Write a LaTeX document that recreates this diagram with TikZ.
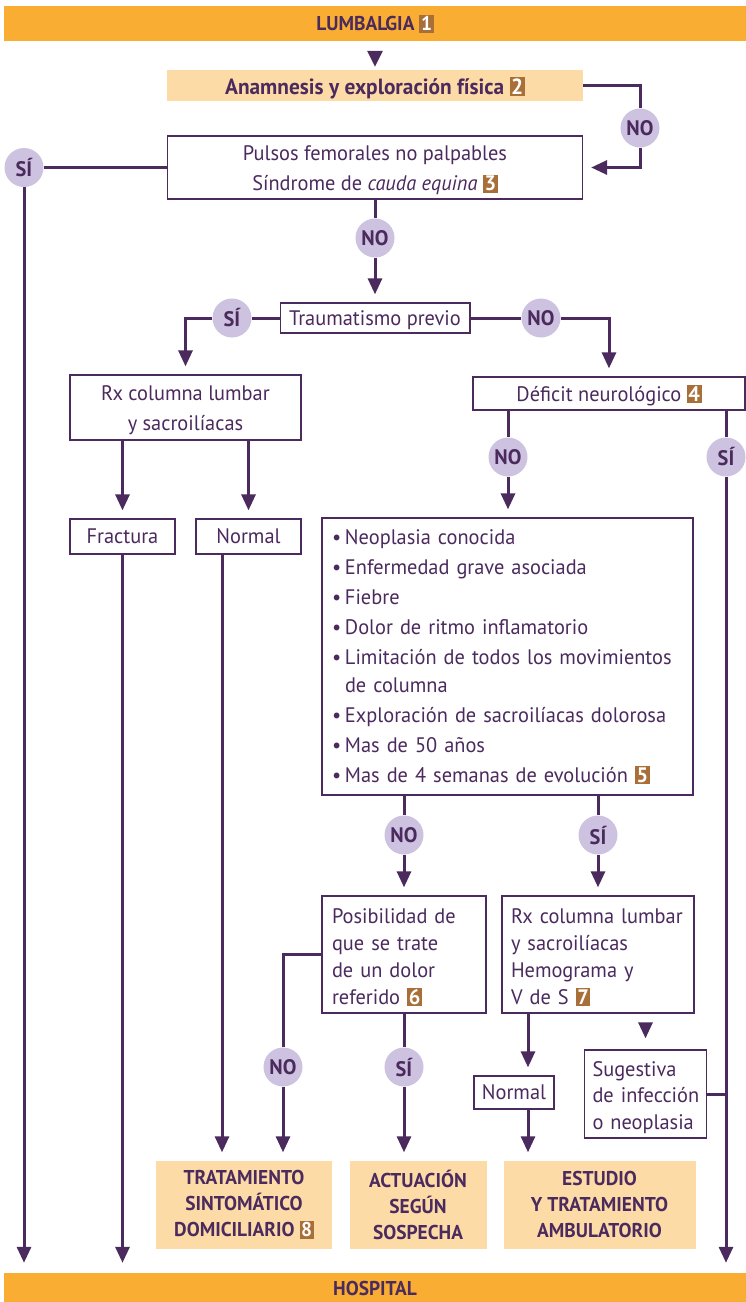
\documentclass[tikz,border=0pt]{standalone}
\usepackage{fontspec}
\setmainfont{PT Sans}[FakeStretch=0.97]
\usetikzlibrary{arrows.meta,calc}

\definecolor{ink}{HTML}{4B2A5E}
\definecolor{barorange}{HTML}{F9AE33}
\definecolor{paleorange}{HTML}{FDDBA7}
\definecolor{lavender}{HTML}{CDC2DF}
\definecolor{numbrown}{HTML}{A96F38}

% brown reference number tag
\newcommand\refnum[1]{{\setlength{\fboxsep}{1.6pt}\colorbox{numbrown}{\textcolor{white}{\bfseries #1}}}}
% bullet with fixed indent
\newcommand\itm{\makebox[13pt][l]{\textbullet}}
% invisible strut that lowers a multi-line text block a little
\newcommand\lowerby[1]{\rule{0pt}{\dimexpr 15pt+#1\relax}}

\tikzset{
  every node/.style={text=ink},
  frame/.style={draw=ink, line width=1.3pt, fill=white, inner xsep=9pt, inner ysep=0pt},
  oneline/.style={text depth=0pt},
  softbox/.style={fill=paleorange, inner sep=0pt},
  banner/.style={fill=barorange, inner sep=0pt},
  answer/.style={circle, fill=lavender, minimum size=39pt, inner sep=0pt,
                 font=\fontsize{21}{21}\selectfont\bfseries},
  txt/.style={font=\fontsize{21}{30}\selectfont},
  btxt/.style={font=\fontsize{20}{26}\selectfont\bfseries},
  link/.style={draw=ink, line width=3pt},
  arr/.style={link, -{Triangle[length=16pt,width=14pt]}, shorten >=8pt},
}

\begin{document}
\begin{tikzpicture}[x=1pt,y=-1pt]
\useasboundingbox (0,0) rectangle (746,1302);

% banners
\node[banner, oneline, minimum width=742pt, minimum height=35pt, btxt] (lumb) at (375,23) {LUMBALGIA \refnum{1}};
\node[banner, oneline, minimum width=742pt, minimum height=30pt, btxt] (hosp) at (375,1288) {HOSPITAL};

% boxes
\node[softbox, oneline, minimum width=416pt, minimum height=31pt, font=\fontsize{22}{26}\selectfont\bfseries] (anam) at (375,85.5) {Anamnesis y exploración física \refnum{2}};
\node[frame, minimum width=415pt, minimum height=63pt, txt, align=center] (puls) at (375,167.5)
  {\lowerby{6pt}Pulsos femorales no palpables\\Síndrome de \textit{cauda equina} \refnum{3}};
\node[frame, oneline, minimum width=187pt, minimum height=30pt, txt] (trau) at (375,318) {Traumatismo previo};
\node[frame, minimum width=231pt, minimum height=65pt, txt, align=center] (rx1) at (185.5,407.5)
  {\lowerby{6pt}Rx columna lumbar\\y sacroilíacas};
\node[frame, oneline, minimum width=105pt, minimum height=35pt, txt] (frac) at (122.5,536.5) {Fractura};
\node[frame, oneline, minimum width=105pt, minimum height=35pt, txt] (norm1) at (248.5,536.5) {Normal};
\node[frame, oneline, minimum width=272pt, minimum height=33pt, txt] (defi) at (609,393.5) {Déficit neurológico \refnum{4}};
\node[frame, inner xsep=10pt, text width=351pt, minimum height=277pt, txt, align=left] (list) at (507.5,656.5)
  {\itm Neoplasia conocida\\
   \itm Enfermedad grave asociada\\
   \itm Fiebre\\
   \itm Dolor de ritmo inflamatorio\\
   \itm Limitación de todos los movimientos\\[-2pt]
   \hspace*{13pt}de columna\\
   \itm Exploración de sacroilíacas dolorosa\\
   \itm Mas de 50 años\\
   \itm Mas de 4 semanas de evolución \refnum{5}};
\node[frame, inner xsep=10pt, text width=144pt, minimum height=117pt, font=\fontsize{21}{27}\selectfont, align=left] (posi) at (404,954.5)
  {\lowerby{6pt}Posibilidad de\\que se trate\\de un dolor\\referido \refnum{6}};
\node[frame, inner xsep=9pt, text width=174pt, minimum height=117pt, font=\fontsize{21}{27}\selectfont, align=left] (rx2) at (598,954.5)
  {\lowerby{6pt}Rx columna lumbar\\y sacroilíacas\\Hemograma y\\V de S \refnum{7}};
\node[frame, oneline, minimum width=80pt, minimum height=33pt, inner xsep=4pt, txt] (norm2) at (514,1092.5) {Normal};
\node[frame, inner xsep=8pt, text width=106pt, minimum height=88pt, font=\fontsize{21}{26.5}\selectfont, align=left] (suge) at (645.5,1094)
  {\lowerby{7pt}Sugestiva\\\mbox{de infección}\\o neoplasia};
\node[softbox, minimum width=176pt, minimum height=88pt, btxt, align=center] (trat) at (244,1204.5)
  {TRATAMIENTO\\SINTOMÁTICO\\DOMICILIARIO \refnum{8}};
\node[softbox, minimum width=137pt, minimum height=88pt, btxt, align=center] (actu) at (418,1204.5)
  {ACTUACIÓN\\SEGÚN\\SOSPECHA};
\node[softbox, minimum width=192pt, minimum height=88pt, btxt, align=center] (estu) at (599.5,1204.5)
  {ESTUDIO\\Y TRATAMIENTO\\AMBULATORIO};

% yes / no answers
\node[answer] (c1) at (640,128) {NO};
\node[answer] (c2) at (24,167.5) {SÍ};
\node[answer] (c3) at (375,238) {NO};
\node[answer] (c4) at (232,318) {SÍ};
\node[answer] (c5) at (541,318) {NO};
\node[answer] (c6) at (508,457) {NO};
\node[answer] (c7) at (726,457) {SÍ};
\node[answer] (c8) at (404,835) {NO};
\node[answer] (c9) at (598,835) {SÍ};
\node[answer] (c10) at (283,1067) {NO};
\node[answer] (c11) at (404,1067) {SÍ};

% fixed columns for off-centre connectors
\coordinate (n1col) at (222,0);
\coordinate (n2col) at (528,0);

% connectors
\draw[arr, shorten <=11pt, shorten >=3pt, -{Triangle[length=16pt,width=15pt]}] (lumb.south) -- (anam.north);
\draw[link] (anam.east) -| (c1);
\draw[arr] (c1) |- (puls.east);
\draw[link] (puls.west) -- (c2);
\draw[arr, shorten >=10pt] (c2) -- (c2 |- hosp.north);
\draw[link] (puls.south) -- (c3);
\draw[arr] (c3) -- (trau.north);
\draw[link] (trau.west) -- (c4);
\draw[arr] (c4) -| (rx1.north);
\draw[link] (trau.east) -- (c5);
\draw[arr] (c5) -| (defi.north);
\draw[arr] (rx1.south -| frac.north) -- (frac.north);
\draw[arr] (rx1.south -| norm1.north) -- (norm1.north);
\draw[arr, shorten >=10pt] (frac.south) -- (frac.south |- hosp.north);
\draw[arr] (n1col |- norm1.south) -- (n1col |- trat.north);
\draw[link] (defi.south -| c6) -- (c6);
\draw[arr] (c6) -- (c6 |- list.north);
\draw[link] (defi.south -| c7) -- (c7);
\draw[arr, shorten >=10pt] (c7) -- (c7 |- hosp.north);
\draw[link] (list.south -| c8) -- (c8);
\draw[arr] (c8) -- (posi.north);
\draw[link] (list.south -| c9) -- (c9);
\draw[arr] (c9) -- (rx2.north);
\draw[link] (posi.west) -| (c10);
\draw[arr] (c10) -- (c10 |- trat.north);
\draw[link] (posi.south) -- (c11);
\draw[arr] (c11) -- (c11 |- actu.north);
\draw[arr] (rx2.south -| n2col) -- (n2col |- norm2.north);
\draw[arr] (n2col |- norm2.south) -- (n2col |- estu.north);
\draw[arr, shorten <=10pt, shorten >=11pt] (rx2.south -| suge.north) -- (suge.north);
\draw[link] (suge.east) -- (suge.east -| c7);
\end{tikzpicture}
\end{document}
